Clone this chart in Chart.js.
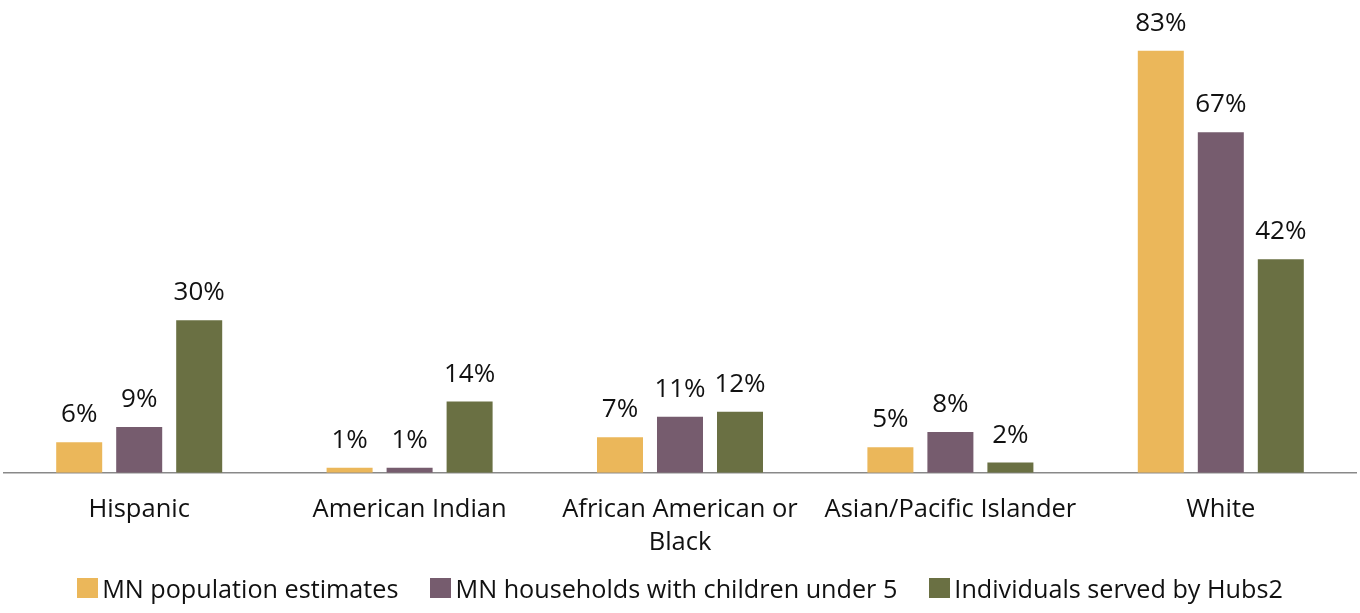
<!DOCTYPE html>
<html>
<head>
<meta charset="utf-8">
<script src="https://cdn.jsdelivr.net/npm/chart.js@4.4.1/dist/chart.umd.min.js"></script>
<style>
  html, body { margin: 0; padding: 0; background: #fff; }
  #wrap { position: relative; width: 1360px; height: 613px; }
  #legend { position: absolute; left: 0; top: 571px; width: 1360px; display: flex; justify-content: center; align-items: center; font-family: "Open Sans", sans-serif; font-size: 25.2px; color: #111; }
  .item { display: flex; align-items: center; margin: 0 16px; }
  .box { width: 21px; height: 20px; margin-right: 4px; }
</style>
</head>
<body>
<div id="wrap">
  <canvas id="c" width="1360" height="613"></canvas>
  <div id="legend"></div>
</div>
<script>
const categories = ["Hispanic", "American Indian", ["African American or", "Black"], "Asian/Pacific Islander", "White"];
const seriesNames = ["MN population estimates", "MN households with children under 5", "Individuals served by Hubs2"];
const mnPopulation = [6, 1, 7, 5, 83];
const mnHouseholds = [9, 1, 11, 8, 67];
const hubsServed = [30, 14, 12, 2, 42];
const seriesColors = ["#EBB75A", "#765C6E", "#6A7043"];

const FONT = '"Open Sans", sans-serif';

const valueLabels = {
  id: 'valueLabels',
  afterDatasetsDraw(chart) {
    const ctx = chart.ctx;
    ctx.save();
    ctx.font = '26px ' + FONT;
    ctx.fillStyle = '#111';
    ctx.textAlign = 'center';
    ctx.textBaseline = 'alphabetic';
    chart.data.datasets.forEach((ds, i) => {
      chart.getDatasetMeta(i).data.forEach((bar, j) => {
        ctx.fillText(ds.data[j] + '%', bar.x, bar.y - 20);
      });
    });
    ctx.restore();
  }
};

const datasets = [mnPopulation, mnHouseholds, hubsServed].map((d, i) => ({
  label: seriesNames[i],
  data: d,
  backgroundColor: seriesColors[i],
  categoryPercentage: 0.6657,
  barPercentage: 0.7667
}));

const chart = new Chart(document.getElementById('c'), {
  type: 'bar',
  data: { labels: categories, datasets },
  options: {
    responsive: false,
    animation: false,
    layout: { padding: { left: 4, right: 4, top: 0, bottom: 33 } },
    plugins: { legend: { display: false }, tooltip: { enabled: false } },
    scales: {
      x: {
        grid: { display: false, drawTicks: false },
        border: { display: true, color: '#898989', width: 1.5 },
        ticks: { color: '#111', font: { family: FONT, size: 25.5, lineHeight: 1.28 }, padding: 21, maxRotation: 0, autoSkip: false }
      },
      y: { display: false, min: 0, max: 93 }
    }
  },
  plugins: [valueLabels]
});

const legend = document.getElementById('legend');
chart.data.datasets.forEach(ds => {
  const it = document.createElement('div');
  it.className = 'item';
  const b = document.createElement('div');
  b.className = 'box';
  b.style.background = ds.backgroundColor;
  const t = document.createElement('span');
  t.textContent = ds.label;
  it.appendChild(b); it.appendChild(t);
  legend.appendChild(it);
});
</script>
</body>
</html>
